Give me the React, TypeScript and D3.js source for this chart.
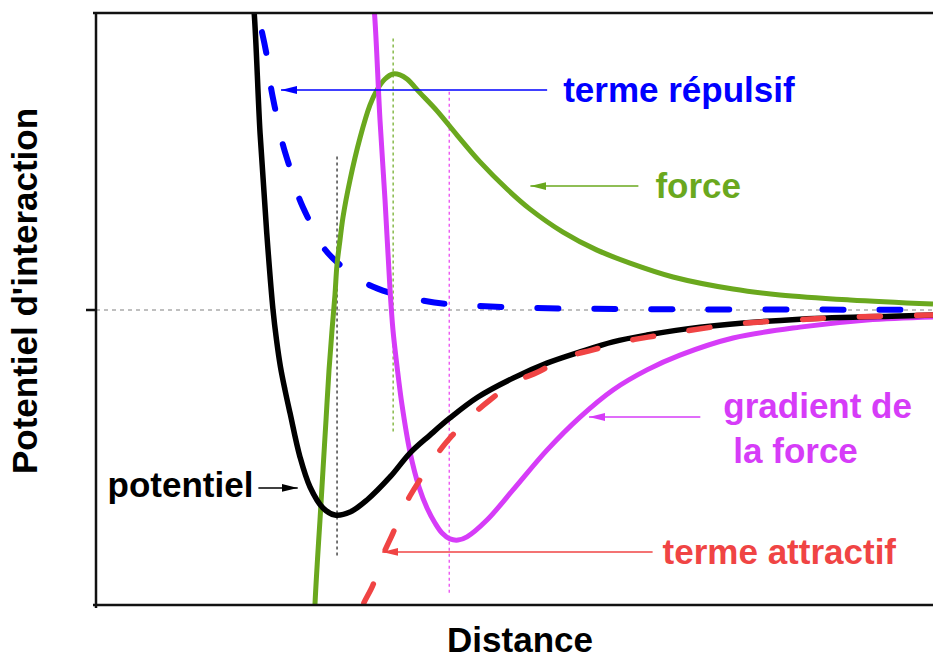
import React from 'react';
import * as d3 from 'd3';

const W = 933;
const H = 659;
const frame = { left: 96, right: 933, top: 13, bottom: 605 };
const FONT = '"Liberation Sans", Arial, Helvetica, sans-serif';

// curves, x = distance, y = energy (arbitrary units)
const potentiel: [number, number][] = [
	[1.85, 1.12], [1.89, 1.007], [1.96, 0.6], [2.04, 0.261], [2.115, 0], [2.157, -0.102],
	[2.204, -0.193], [2.258, -0.271], [2.318, -0.349], [2.437, -0.498], [2.557, -0.6], [2.712, -0.671],
	[2.855, -0.695], [3.035, -0.685], [3.238, -0.644], [3.513, -0.566], [3.751, -0.485], [3.99, -0.424],
	[4.229, -0.366], [4.564, -0.295], [4.982, -0.231], [5.388, -0.18], [5.783, -0.142],
	[6.177, -0.108], [6.583, -0.085], [7.216, -0.058], [8.411, -0.031], [9.606, -0.02], [10, -0.017]
];

const repulsif: [number, number][] = [
	[1.983, 0.942], [2.043, 0.858], [2.091, 0.753], [2.151, 0.668], [2.234, 0.559], [2.318, 0.481],
	[2.425, 0.38], [2.557, 0.298], [2.712, 0.214], [2.915, 0.153], [3.214, 0.092], [3.513, 0.058],
	[3.871, 0.034], [4.194, 0.02], [4.552, 0.014], [5.245, 0.007], [6.5, 0.003], [10, 0.001]
];

const attractif: [number, number][] = [
	[3.142, -1.051], [3.19, -1.0], [3.309, -0.932], [3.429, -0.831], [3.548, -0.756], [3.692, -0.661],
	[3.847, -0.586], [4.05, -0.498], [4.229, -0.434], [4.468, -0.363], [4.707, -0.305], [5.006, -0.244],
	[5.281, -0.21], [5.627, -0.159], [5.926, -0.136], [6.284, -0.108], [6.595, -0.092], [6.965, -0.075],
	[7.658, -0.047], [8.351, -0.034], [8.996, -0.024], [10, -0.017]
];

const force: [number, number][] = [
	[2.611, -1.051], [2.616, -1.0], [2.646, -0.847], [2.676, -0.712], [2.712, -0.542], [2.748, -0.373],
	[2.784, -0.203], [2.82, -0.068], [2.855, 0.051], [2.879, 0.153], [2.915, 0.237], [2.951, 0.315],
	[3.035, 0.441], [3.154, 0.583], [3.274, 0.695], [3.357, 0.746], [3.453, 0.783], [3.548, 0.8],
	[3.632, 0.797], [3.716, 0.783], [3.871, 0.736], [4.074, 0.675], [4.313, 0.593], [4.588, 0.502],
	[4.91, 0.41], [5.185, 0.342], [5.579, 0.264], [5.986, 0.203], [6.38, 0.159], [6.894, 0.112],
	[7.611, 0.071], [8.172, 0.051], [9.008, 0.034], [10, 0.02]
];

const gradient: [number, number][] = [
	[3.297, 1.085], [3.327, 1.007], [3.393, 0.644], [3.453, 0.373], [3.513, 0.068], [3.548, -0.068],
	[3.596, -0.19], [3.656, -0.322], [3.751, -0.481], [3.859, -0.6], [3.955, -0.671], [4.05, -0.722],
	[4.134, -0.756], [4.229, -0.776], [4.325, -0.78], [4.432, -0.769], [4.671, -0.712], [4.982, -0.61],
	[5.388, -0.475], [5.783, -0.363], [6.177, -0.271], [6.583, -0.203], [6.977, -0.153], [7.611, -0.095],
	[8.411, -0.058], [9.211, -0.034], [10, -0.024]
];

// vertical guide lines: [x, yFrom, yTo]
const guides: [number, number, number][] = [
	[2.88, 0.52, -0.84],
	[3.55, 0.92, -0.42],
	[4.22, 0.74, -0.96]
];

// arrows: [tipX, tailX, y]
const arrows: [number, number, number][] = [
	[2.21, 5.39, 0.746],
	[5.19, 6.48, 0.42],
	[5.89, 7.22, -0.363],
	[3.42, 6.65, -0.82],
	[2.41, 1.94, -0.603]
];

const labels = ['terme répulsif', 'force', 'gradient de|la force', 'terme attractif', 'potentiel'];

const colors = {
	potentiel: '#000000',
	repulsif: '#0000ff',
	attractif: '#f04444',
	force: '#6aa81e',
	gradient: '#d63cf8'
};

const arrowColors = [colors.repulsif, colors.force, colors.gradient, colors.attractif, colors.potentiel];
const guideColors = ['#555555', colors.force, '#e83cf0'];

const x = d3.scaleLinear().domain([0, 10]).range([frame.left, frame.right]);
const y = d3.scaleLinear().domain([-1, 1]).range([frame.bottom, 15]);

const line = d3
	.line<[number, number]>()
	.x(d => x(d[0]))
	.y(d => y(d[1]))
	.curve(d3.curveCatmullRom.alpha(0.5));

export default function App() {
	// label placement relative to arrow tails (dx, dy, anchor)
	const labelOffsets: [number, number, string][] = [
		[16, 12, 'start'],
		[17, 12, 'start'],
		[23, 1, 'start'],
		[10, 12, 'start'],
		[-5, 9, 'end']
	];

	return (
		<svg
			width={W}
			height={H}
			style={{ position: 'fixed', left: 0, top: 0, background: '#fff' }}
			fontFamily={FONT}
		>
			<defs>
				<clipPath id="plotClip">
					<rect x={frame.left} y={frame.top} width={frame.right - frame.left} height={frame.bottom - frame.top} />
				</clipPath>
				{arrowColors.map((c, i) => (
					<marker
						key={i}
						id={`head${i}`}
						markerUnits="userSpaceOnUse"
						markerWidth={16}
						markerHeight={10}
						refX={16}
						refY={5}
						orient="auto"
					>
						<path d="M0,1 L16,5 L0,9 Z" fill={c} />
					</marker>
				))}
			</defs>

			{/* zero line */}
			<line x1={frame.left} x2={frame.right} y1={y(0)} y2={y(0)} stroke="#aaa" strokeWidth={1.5} strokeDasharray="4 4" />

			{/* guides */}
			{guides.map((g, i) => (
				<line
					key={i}
					x1={x(g[0])}
					x2={x(g[0])}
					y1={y(g[1])}
					y2={y(g[2])}
					stroke={guideColors[i]}
					strokeWidth={i === 0 ? 1.6 : 1.2}
					strokeDasharray="3 3"
				/>
			))}

			<g clipPath="url(#plotClip)" fill="none" strokeLinejoin="round">
				<path d={line(repulsif) || ''} stroke={colors.repulsif} strokeWidth={6} strokeLinecap="round" strokeDasharray="21 36" />
				<path d={line(force) || ''} stroke={colors.force} strokeWidth={5} />
				<path d={line(gradient) || ''} stroke={colors.gradient} strokeWidth={5} />
				<path d={line(potentiel) || ''} stroke={colors.potentiel} strokeWidth={5.5} />
				<path d={line(attractif) || ''} stroke={colors.attractif} strokeWidth={5.5} strokeLinecap="round" strokeDasharray="21 36" strokeDashoffset={39} />
			</g>

			{/* frame */}
			<g stroke="#111" strokeWidth={2.5} fill="none">
				<line x1={93} x2={frame.right} y1={frame.top} y2={frame.top} />
				<line x1={93} x2={frame.right} y1={frame.bottom} y2={frame.bottom} />
				<line x1={frame.left} x2={frame.left} y1={frame.top} y2={frame.bottom + 3} />
				<line x1={frame.left - 10} x2={frame.left} y1={y(0)} y2={y(0)} />
			</g>

			{/* annotations */}
			{arrows.map((a, i) => {
				const [dx, dy, anchor] = labelOffsets[i];
				const tx = x(a[1]) + dx;
				const ty = y(a[2]) + dy;
				const parts = labels[i].split('|');
				return (
					<g key={i}>
						<line
							x1={x(a[1])}
							x2={x(a[0])}
							y1={y(a[2])}
							y2={y(a[2])}
							stroke={arrowColors[i]}
							strokeWidth={1.5}
							markerEnd={`url(#head${i})`}
						/>
						{parts.map((p, j) => (
							<text
								key={j}
								x={tx + j * 10}
								y={ty + j * 45}
								fill={arrowColors[i]}
								fontSize={35}
								fontWeight="bold"
								textAnchor={anchor}
							>
								{p}
							</text>
						))}
					</g>
				);
			})}

			{/* axis titles */}
			<text x={520} y={652} textAnchor="middle" fontSize={35} fontWeight="bold" fill="#000">
				Distance
			</text>
			<text
				transform={`translate(37, ${291}) rotate(-90)`}
				textAnchor="middle"
				fontSize={35}
				fontWeight="bold"
				fill="#000"
			>
				Potentiel d'interaction
			</text>
		</svg>
	);
}
